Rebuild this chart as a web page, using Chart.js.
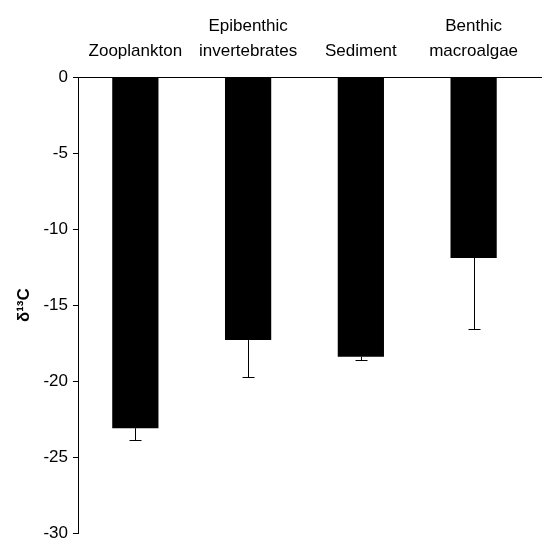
<!DOCTYPE html>
<html>
<head>
<meta charset="utf-8">
<script src="https://cdn.jsdelivr.net/npm/chart.js@4/dist/chart.umd.min.js"></script>
<style>
  body { margin: 0; background: #fff; }
  #wrap { width: 543px; height: 540px; }
</style>
</head>
<body>
<div id="wrap"><canvas id="myChart" width="543" height="540"></canvas></div>
<script>
// categories along the top axis
var groups = [['Zooplankton'], ['Epibenthic', 'invertebrates'], ['Sediment'], ['Benthic', 'macroalgae']];
// mean delta 13C per group
var means = [-23.1, -17.3, -18.4, -11.9];
// lower end of each error bar
var errLow = [-23.9, -19.7, -18.6, -16.6];
// y ticks
var yTicks = [0, -5, -10, -15, -20, -25, -30];

// draws the one-sided error bars and the extra bit of the top axis line
var errorBars = {
  id: 'errorBars',
  afterDatasetsDraw: function(chart) {
    var ctx = chart.ctx;
    var x = chart.scales.x, y = chart.scales.y;
    ctx.save();
    ctx.strokeStyle = '#000';
    ctx.lineWidth = 1;
    for (var i = 0; i < means.length; i++) {
      var px = Math.round(x.getPixelForValue(i)) + 0.5;
      var y0 = y.getPixelForValue(means[i]);
      var y1 = Math.round(y.getPixelForValue(errLow[i])) + 0.5;
      ctx.beginPath();
      ctx.moveTo(px, y0);
      ctx.lineTo(px, y1);
      ctx.moveTo(px - 6, y1);
      ctx.lineTo(px + 6, y1);
      ctx.stroke();
    }
    var top = Math.round(x.bottom - 0.5) + 0.5;
    ctx.beginPath();
    ctx.moveTo(chart.chartArea.right, top);
    ctx.lineTo(chart.width - 1, top);
    ctx.stroke();
    ctx.restore();
  }
};

var ctx = document.getElementById('myChart');
var myChart = new Chart(ctx, {
  type: 'bar',
  data: {
    labels: groups,
    datasets: [
      {
        data: means,
        backgroundColor: '#000',
        borderWidth: 0,
        categoryPercentage: 1,
        barPercentage: 0.41
      }
    ]
  },
  options: {
    responsive: false,
    animation: false,
    layout: { padding: { left: 10, top: 0, right: 13, bottom: 7 } },
    plugins: { legend: { display: false }, tooltip: { enabled: false } },
    scales: {
      x: {
        position: 'top',
        grid: { display: false, drawTicks: false },
        border: { display: true, color: '#000', width: 1 },
        ticks: {
          color: '#000',
          padding: 14,
          maxRotation: 0,
          font: { family: 'Liberation Sans, Arial', size: 17, lineHeight: 1.45 }
        }
      },
      y: {
        min: -30,
        max: 0,
        afterBuildTicks: function(axis) {
          axis.ticks = yTicks.map(function(v) { return { value: v }; });
        },
        afterFit: function(axis) {
          // let the bottom label be cut off like in the original
          axis.paddingBottom = 0;
        },
        grid: { drawOnChartArea: false, tickLength: 6, color: '#000' },
        border: { display: true, color: '#000', width: 1 },
        ticks: {
          color: '#000',
          padding: 5,
          font: { family: 'Liberation Sans, Arial', size: 17 }
        },
        title: {
          display: true,
          text: 'δ¹³C',
          color: '#000',
          font: { family: 'Liberation Sans, Arial', size: 17, weight: 'bold' }
        }
      }
    }
  },
  plugins: [errorBars]
});
</script>
</body>
</html>
